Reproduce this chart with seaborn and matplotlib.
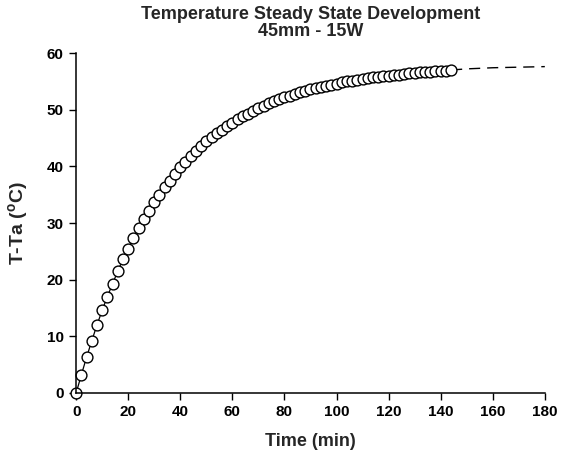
import pandas as pd
import matplotlib
matplotlib.use("Agg")
import matplotlib.pyplot as plt
import seaborn as sns

# measured points, every 2 min
time_min = list(range(0, 146, 2))
temp_rise = [0.0, 3.2, 6.3, 9.2, 12.0, 14.6, 17.0, 19.3, 21.5, 23.6,
             25.5, 27.4, 29.1, 30.7, 32.2, 33.7, 35.0, 36.3, 37.5, 38.7,
             39.8, 40.8, 41.8, 42.7, 43.6, 44.4, 45.1, 45.8, 46.5, 47.1,
             47.7, 48.3, 48.8, 49.3, 49.8, 50.3, 50.7, 51.1, 51.5, 51.8,
             52.2, 52.5, 52.8, 53.1, 53.3, 53.6, 53.8, 54.0, 54.2, 54.4,
             54.6, 54.8, 55.0, 55.1, 55.3, 55.4, 55.6, 55.7, 55.8, 55.9,
             56.0, 56.1, 56.2, 56.3, 56.4, 56.5, 56.6, 56.6, 56.7, 56.8,
             56.9, 56.9, 57.0]

# extrapolated steady-state tail (dashed)
tail_time = [144, 150, 160, 170, 180]
tail_temp = [57.0, 57.2, 57.4, 57.5, 57.6]

sns.set_theme(style="ticks")
plt.rcParams["font.family"] = ["Liberation Sans", "DejaVu Sans"]
plt.rcParams["font.weight"] = "bold"
plt.rcParams["mathtext.fontset"] = "custom"
plt.rcParams["mathtext.rm"] = "Liberation Sans:bold"
plt.rcParams["mathtext.it"] = "Liberation Sans:bold"
plt.rcParams["mathtext.default"] = "rm"

df = pd.DataFrame({"t": time_min, "T": temp_rise})
tail = pd.DataFrame({"t": tail_time, "T": tail_temp})

fig = plt.figure(figsize=(5.64, 4.59), dpi=100)
ax = fig.add_axes([0.135, 0.1438, 0.831, 0.7407])

sns.lineplot(data=tail, x="t", y="T", ax=ax, color="black", linewidth=1.0,
             linestyle=(0, (8, 5)), estimator=None)
sns.lineplot(data=df, x="t", y="T", ax=ax, color="black", linewidth=0.9,
             marker="o", markersize=7.8, markerfacecolor="white",
             markeredgecolor="black", markeredgewidth=1.0, estimator=None,
             clip_on=False)

ax.set_xlim(0, 180)
ax.set_ylim(0, 60)
ax.set_xticks(range(0, 181, 20))
ax.set_yticks(range(0, 61, 10))
ax.tick_params(direction="out", length=5, width=1, labelsize=11, colors="black", pad=4)
for s in ["top", "right"]:
    ax.spines[s].set_visible(False)
for s in ["left", "bottom"]:
    ax.spines[s].set_linewidth(1.1)
    ax.spines[s].set_color("black")

ax.set_xlabel("Time (min)", fontsize=13, fontweight="bold", labelpad=10)
ax.set_ylabel("T-Ta ($^{o}$C)", fontsize=14, fontweight="bold", labelpad=12)
ax.set_title("Temperature Steady State Development\n45mm - 15W", fontsize=13,
             fontweight="bold", pad=12, linespacing=1.0)

fig.savefig("out.png", dpi=100)
